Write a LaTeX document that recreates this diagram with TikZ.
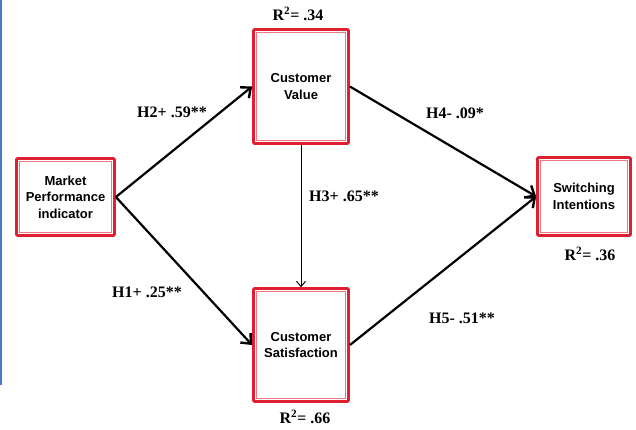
\documentclass[tikz,border=0pt]{standalone}
\usepackage{fontspec}
\setmainfont{Liberation Serif}
\newfontfamily\boxfont{Liberation Sans}
\usetikzlibrary{arrows.meta,calc}
\definecolor{boxred}{RGB}{222,32,48}
\definecolor{innerred}{RGB}{236,120,130}
\definecolor{sideblue}{RGB}{72,122,200}

\begin{document}
\begin{tikzpicture}[x=1pt,y=-1pt,
    construct/.style={draw=boxred, line width=2.8pt, rounded corners=1pt,
        align=center, inner sep=0pt,
        font=\boxfont\bfseries\fontsize{13}{16.5}\selectfont},
    effect/.style={draw, line width=2.2pt,
        -{Straight Barb[length=8pt,width=14pt,line width=2.4pt]}},
    coef/.style={font=\bfseries\fontsize{16}{18}\selectfont},
]
    \useasboundingbox (0,0) rectangle (636,429);
    \draw[sideblue, line width=2.5pt] (1,0) -- (1,385);

    \node[construct, minimum width=98pt, minimum height=77pt] (mpi) at (65.5,197)
        {Market\\Performance\\indicator};
    \node[construct, minimum width=95pt, minimum height=114pt] (cv) at (301,86.5)
        {Customer\\Value};
    \node[construct, minimum width=95pt, minimum height=113pt] (cs) at (301,345)
        {Customer\\Satisfaction};
    \node[construct, minimum width=93pt, minimum height=78pt] (si) at (584,196.5)
        {Switching\\Intentions};
    % thin inner frames
    \foreach \n in {mpi,cv,cs,si}
        \draw[innerred, line width=0.9pt]
            ($(\n.north west)+(4.5,4.5)$) rectangle ($(\n.south east)+(-4.5,-4.5)$);

    \draw[effect] (mpi.east) -- (cv.west);
    \draw[effect] (mpi.east) -- (cs.west);
    \draw[line width=1pt, -{Straight Barb[length=5pt,width=9pt]}] (cv.south) -- (cs.north);
    \draw[effect] (cv.east) -- (si.west);
    \draw[effect] (cs.east) -- (si.west);

    \node[coef] (h2) at (172,112) {H2+ .59**};
    \node[coef] (h1) at (147,292) {H1+ .25**};
    \node[coef] (h3) at (344,196) {H3+ .65**};
    \node[coef] (h4) at (455,113) {H4- .09*};
    \node[coef] (h5) at (462,318) {H5- .51**};

    \node[coef] (rcv) at (298,14) {R\textsuperscript{2}= .34};
    \node[coef] (rcs) at (305,417) {R\textsuperscript{2}= .66};
    \node[coef] (rsi) at (590,254) {R\textsuperscript{2}= .36};
\end{tikzpicture}
\end{document}
